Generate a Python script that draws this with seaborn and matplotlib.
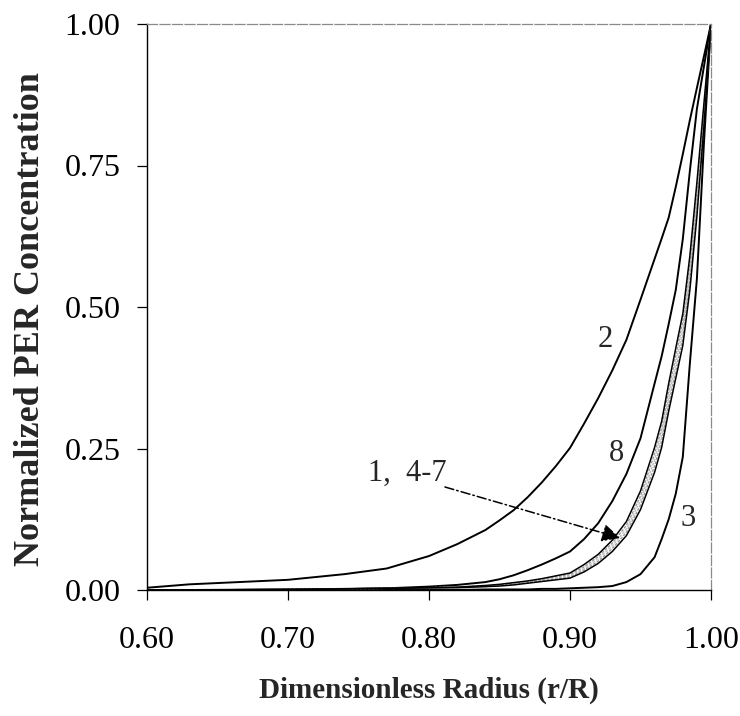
import numpy as np
import pandas as pd
import matplotlib
matplotlib.use("Agg")
import matplotlib.pyplot as plt
import seaborn as sns

# Dimensionless radius (r/R)
radius = [0.60, 0.63, 0.70, 0.74, 0.77, 0.80, 0.82, 0.84, 0.85, 0.86, 0.87, 0.88, 0.89, 0.90,
          0.91, 0.92, 0.93, 0.94, 0.95, 0.96, 0.965, 0.97, 0.975, 0.98, 0.985, 0.99, 0.995, 1.00]

# Normalized PER concentration per case
case2 = [0.004, 0.010, 0.018, 0.028, 0.038, 0.060, 0.081, 0.106, 0.123, 0.141, 0.164, 0.190, 0.219, 0.251,
         0.294, 0.339, 0.388, 0.442, 0.513, 0.585, 0.621, 0.658, 0.712, 0.770, 0.830, 0.887, 0.943, 1.000]
case8 = [0.000, 0.000, 0.001, 0.002, 0.003, 0.006, 0.009, 0.014, 0.019, 0.026, 0.035, 0.045, 0.056, 0.068,
         0.090, 0.118, 0.157, 0.205, 0.268, 0.365, 0.413, 0.470, 0.530, 0.620, 0.740, 0.850, 0.925, 1.000]
case1 = [0.000, 0.000, 0.001, 0.002, 0.003, 0.004, 0.005, 0.008, 0.010, 0.013, 0.016, 0.020, 0.025, 0.030,
         0.045, 0.063, 0.088, 0.121, 0.175, 0.252, 0.298, 0.365, 0.427, 0.488, 0.590, 0.720, 0.860, 1.000]
case4 = [0.000, 0.000, 0.001, 0.002, 0.003, 0.004, 0.005, 0.007, 0.009, 0.012, 0.015, 0.018, 0.023, 0.027,
         0.041, 0.059, 0.083, 0.114, 0.166, 0.241, 0.286, 0.352, 0.413, 0.474, 0.575, 0.705, 0.850, 1.000]
case5 = [0.000, 0.000, 0.001, 0.002, 0.003, 0.004, 0.005, 0.007, 0.009, 0.011, 0.014, 0.017, 0.021, 0.025,
         0.038, 0.055, 0.078, 0.108, 0.158, 0.230, 0.275, 0.340, 0.400, 0.460, 0.560, 0.690, 0.840, 1.000]
case6 = [0.000, 0.000, 0.001, 0.002, 0.003, 0.004, 0.005, 0.006, 0.008, 0.010, 0.013, 0.016, 0.019, 0.023,
         0.035, 0.051, 0.073, 0.102, 0.150, 0.219, 0.264, 0.328, 0.387, 0.446, 0.545, 0.675, 0.830, 1.000]
case7 = [0.000, 0.000, 0.001, 0.002, 0.003, 0.004, 0.004, 0.006, 0.007, 0.009, 0.012, 0.015, 0.018, 0.021,
         0.032, 0.047, 0.068, 0.096, 0.142, 0.208, 0.252, 0.316, 0.374, 0.432, 0.530, 0.660, 0.820, 1.000]
case3 = [0.000, 0.000, 0.000, 0.000, 0.000, 0.000, 0.000, 0.001, 0.001, 0.001, 0.001, 0.002, 0.002, 0.003,
         0.004, 0.005, 0.007, 0.014, 0.028, 0.058, 0.090, 0.125, 0.170, 0.235, 0.400, 0.550, 0.790, 1.000]

x_ticks = [0.60, 0.70, 0.80, 0.90, 1.00]
y_ticks = [0.00, 0.25, 0.50, 0.75, 1.00]

sns.set_style("ticks")
plt.rcParams['font.family'] = ['Liberation Serif', 'DejaVu Serif']

W, H = 740, 716
fig = plt.figure(figsize=(W / 100, H / 100), dpi=100)
L, R, T, B = 147, 711, 24, 590
ax = fig.add_axes([L / W, 1 - B / H, (R - L) / W, (B - T) / H])

curves = [
    (case2, "black", 1.4, "-"),
    (case8, "black", 1.4, "-"),
    (case3, "black", 1.4, "-"),
    (case4, "#9a9a9a", 1.0, (0, (2, 1))),
    (case5, "#c0c0c0", 1.0, (0, (2, 1))),
    (case6, "#9a9a9a", 1.0, (0, (2, 1))),
    (case1, "black", 1.1, "-"),
    (case7, "black", 1.1, "-"),
]
for vals, col, lw, ls in curves:
    sns.lineplot(x=radius, y=vals, ax=ax, color=col, linewidth=lw, linestyle=ls,
                 sort=False, estimator=None)

ax.set_xlim(0.60, 1.00)
ax.set_ylim(0.00, 1.00)
ax.set_xticks(x_ticks)
ax.set_xticklabels([f"{v:.2f}" for v in x_ticks])
ax.set_yticks(y_ticks)
ax.set_yticklabels([f"{v:.2f}" for v in y_ticks])
ax.tick_params(axis="both", direction="out", length=7, width=0.9, color="black",
               labelsize=23, labelcolor="black")
ax.tick_params(axis="x", pad=19)
ax.tick_params(axis="y", pad=12)

for s in ["left", "bottom"]:
    ax.spines[s].set_color("black")
    ax.spines[s].set_linewidth(1.0)
for s in ["top", "right"]:
    ax.spines[s].set_visible(True)
    ax.spines[s].set_color("#8a8a8a")
    ax.spines[s].set_linewidth(0.9)
    ax.spines[s].set_linestyle((0, (8, 2)))

ax.set_xlabel("Dimensionless Radius (r/R)", fontsize=21, fontweight="bold")
ax.set_ylabel("Normalized PER Concentration", fontsize=26, fontweight="bold")
ax.xaxis.set_label_coords(0.5, -0.153)
ax.yaxis.set_label_coords(-0.178, 0.479)

ax.text(0.9248, 0.442, "2", fontsize=22, ha="center", va="center")
ax.text(0.9333, 0.242, "8", fontsize=22, ha="center", va="center")
ax.text(0.9837, 0.127, "3", fontsize=22, ha="center", va="center")
ax.text(0.7844, 0.207, "1,  4-7", fontsize=22, ha="center", va="center")
ax.annotate("", xy=(0.9355, 0.092), xytext=(0.8113, 0.182),
            arrowprops=dict(arrowstyle="-|>,head_length=1.1,head_width=0.55",
                            linestyle=(0, (6, 2, 1, 2)), color="black", lw=1.1,
                            shrinkA=0, shrinkB=0))

fig.savefig("out.png", dpi=100)
